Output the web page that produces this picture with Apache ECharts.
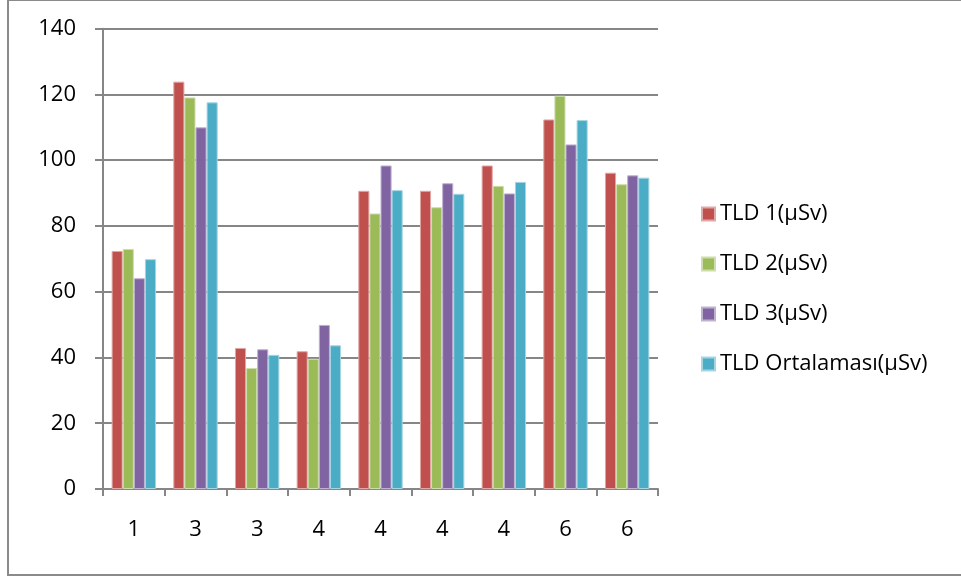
<!DOCTYPE html>
<html>
<head>
<meta charset="utf-8">
<script src="https://cdn.jsdelivr.net/npm/echarts@6/dist/echarts.min.js"></script>
<style>
  html, body { margin: 0; padding: 0; background: #fff; }
  #chart { width: 961px; height: 579px; }
</style>
</head>
<body>
<div id="chart"></div>
<script>
// Category labels along the x axis
const categories = ['1', '3', '3', '4', '4', '4', '4', '6', '6'];

// Dose readings per TLD (µSv)
const tld1 = [72.4, 123.9, 42.9, 41.9, 90.7, 90.7, 98.4, 112.4, 96.2];
const tld2 = [73.0, 119.1, 36.8, 39.6, 83.8, 85.7, 92.2, 119.6, 92.7];
const tld3 = [64.1, 110.0, 42.5, 49.9, 98.4, 93.0, 89.9, 104.8, 95.4];
const tldAvg = [69.9, 117.6, 40.8, 43.7, 90.9, 89.8, 93.4, 112.2, 94.7];

const seriesNames = ['TLD 1(µSv)', 'TLD 2(µSv)', 'TLD 3(µSv)', 'TLD Ortalaması(µSv)'];
const seriesData = [tld1, tld2, tld3, tldAvg];
const colors = ['#C0504D', '#9BBB59', '#8064A2', '#4BACC6'];
const edgeColors = ['#E0A8A6', '#CDDDAC', '#BFB1D0', '#A5D5E2'];

const font = '"Open Sans", "Noto Sans", sans-serif';
const chart = echarts.init(document.getElementById('chart'));

chart.setOption({
  animation: false,
  color: colors,
  textStyle: { fontFamily: font },
  graphic: [{
    type: 'rect',
    shape: { x: 8, y: 0, width: 1000, height: 575 },
    style: { fill: 'none', stroke: '#8a8a8a', lineWidth: 2 },
    silent: true
  }],
  grid: { left: 103, top: 28.7, right: 303, bottom: 90 },
  legend: {
    orient: 'vertical',
    left: 696,
    top: 198,
    itemWidth: 13,
    itemHeight: 13,
    itemGap: 28,
    icon: 'rect',
    textStyle: { fontSize: 22, color: '#000', fontFamily: font, padding: [0, 0, 0, 0] },
    data: seriesNames
  },
  xAxis: {
    type: 'category',
    data: categories,
    axisLine: { lineStyle: { color: '#868686', width: 2 } },
    axisTick: { show: true, length: 7, lineStyle: { color: '#868686', width: 2 } },
    axisLabel: { fontSize: 22, color: '#000', margin: 30, fontFamily: font }
  },
  yAxis: {
    type: 'value',
    min: 0,
    max: 140,
    interval: 20,
    axisLine: { show: true, lineStyle: { color: '#868686', width: 2 } },
    axisTick: { show: true, length: 8, lineStyle: { color: '#868686', width: 2 } },
    axisLabel: { fontSize: 22, color: '#000', margin: 27, fontFamily: font },
    splitLine: { lineStyle: { color: '#868686', width: 2 } }
  },
  series: seriesData.map((d, i) => ({
    name: seriesNames[i],
    type: 'bar',
    data: d,
    barGap: '0%',
    barCategoryGap: '28%',
    itemStyle: { color: colors[i], borderColor: edgeColors[i], borderWidth: 1 }
  }))
});
</script>
</body>
</html>
